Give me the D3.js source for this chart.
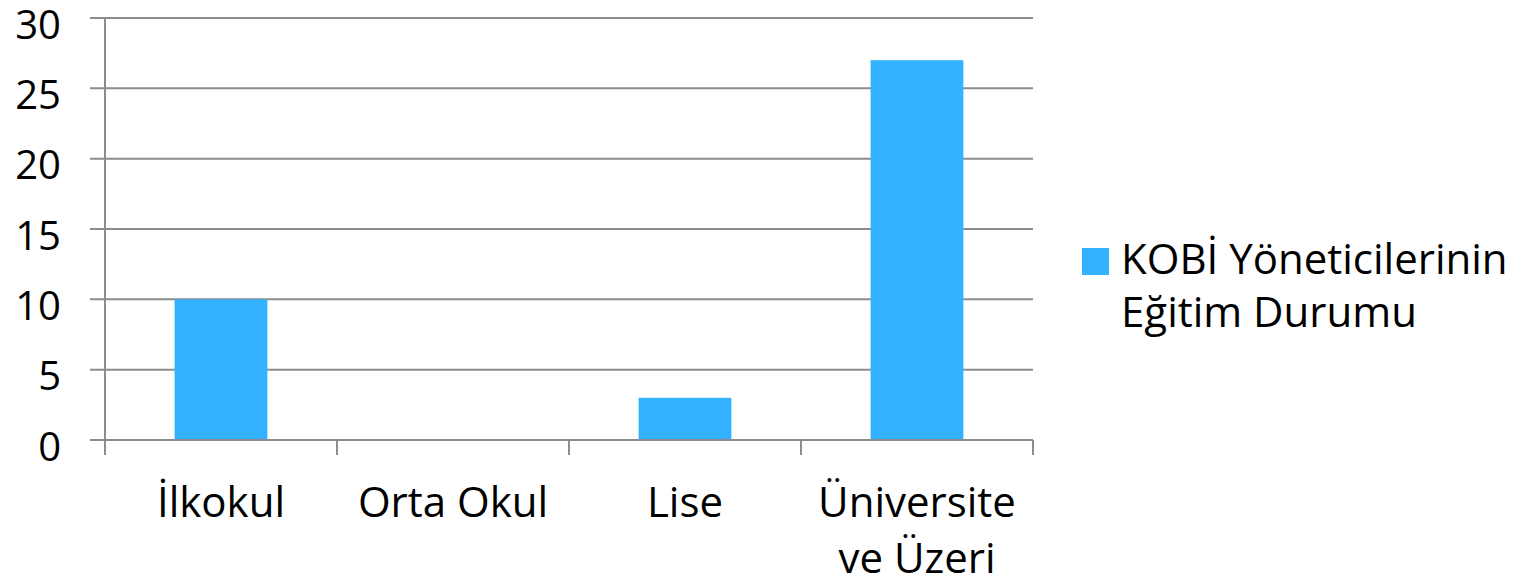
<!DOCTYPE html>
<html>
<head>
<meta charset="utf-8">
<script src="https://d3js.org/d3.v7.min.js"></script>
<style>
  body { margin: 0; background: #fff; }
  text { font-family: "Open Sans", "DejaVu Sans", sans-serif; fill: #000; }
</style>
</head>
<body>
<svg id="chart" width="1535" height="580"></svg>
<script>
const categories = ["İlkokul", "Orta Okul", "Lise", "Üniversite\nve Üzeri"];
const values = [10, 0, 3, 27];
const yTicks = [0, 5, 10, 15, 20, 25, 30];
const seriesName = ["KOBİ Yöneticilerinin", "Eğitim Durumu"];

const plotLeft = 105, plotRight = 1033, plotTop = 18, plotBottom = 440;
const barColor = "#33b3ff", gridColor = "#8c8c8c";

const svg = d3.select("#chart");

const x = d3.scaleBand().domain(categories).range([plotLeft, plotRight]).paddingInner(0.6).paddingOuter(0.3);
const xb = d3.scaleBand().domain(categories).range([plotLeft, plotRight]);
const y = d3.scaleLinear().domain([0, 30]).range([plotBottom, plotTop]);

// gridlines + y ticks
svg.append("g").selectAll("line")
  .data(yTicks)
  .join("line")
  .attr("x1", plotLeft - 15).attr("x2", plotRight)
  .attr("y1", d => y(d)).attr("y2", d => y(d))
  .attr("stroke", gridColor).attr("stroke-width", 2);

svg.append("g").selectAll("text")
  .data(yTicks)
  .join("text")
  .attr("x", 61).attr("y", d => y(d))
  .attr("dy", "0.52em")
  .attr("text-anchor", "end")
  .style("font-size", "40px")
  .text(d => d);

// y axis line
svg.append("line")
  .attr("x1", plotLeft).attr("x2", plotLeft)
  .attr("y1", plotTop).attr("y2", plotBottom + 15)
  .attr("stroke", gridColor).attr("stroke-width", 2);

// category boundary ticks
svg.append("g").selectAll("line")
  .data(categories.slice(1).concat(["end"]))
  .join("line")
  .attr("x1", (d, i) => i < categories.length - 1 ? xb(d) : plotRight)
  .attr("x2", (d, i) => i < categories.length - 1 ? xb(d) : plotRight)
  .attr("y1", plotBottom).attr("y2", plotBottom + 15)
  .attr("stroke", gridColor).attr("stroke-width", 2);

// bars
svg.append("g").selectAll("rect")
  .data(categories)
  .join("rect")
  .attr("x", d => x(d))
  .attr("width", x.bandwidth())
  .attr("y", (d, i) => y(values[i]))
  .attr("height", (d, i) => y(0) - y(values[i]))
  .attr("fill", barColor);

// redraw zero line above bars
svg.append("line")
  .attr("x1", plotLeft).attr("x2", plotRight)
  .attr("y1", y(0)).attr("y2", y(0))
  .attr("stroke", gridColor).attr("stroke-width", 2);

// category labels
const cl = svg.append("g").selectAll("text")
  .data(categories)
  .join("text")
  .attr("x", d => xb(d) + xb.bandwidth() / 2)
  .attr("y", 517)
  .attr("text-anchor", "middle")
  .style("font-size", "42px");
cl.selectAll("tspan")
  .data(d => d.split("\n"))
  .join("tspan")
  .attr("x", function() { return this.parentNode.getAttribute("x"); })
  .attr("dy", (d, i) => i === 0 ? 0 : 56)
  .text(d => d);

// legend
svg.append("rect")
  .attr("x", 1082).attr("y", 248)
  .attr("width", 27).attr("height", 27)
  .attr("fill", barColor);
svg.append("g").selectAll("text")
  .data(seriesName)
  .join("text")
  .attr("x", 1121)
  .attr("y", (d, i) => 274 + i * 53)
  .style("font-size", "42px")
  .text(d => d);
</script>
</body>
</html>
